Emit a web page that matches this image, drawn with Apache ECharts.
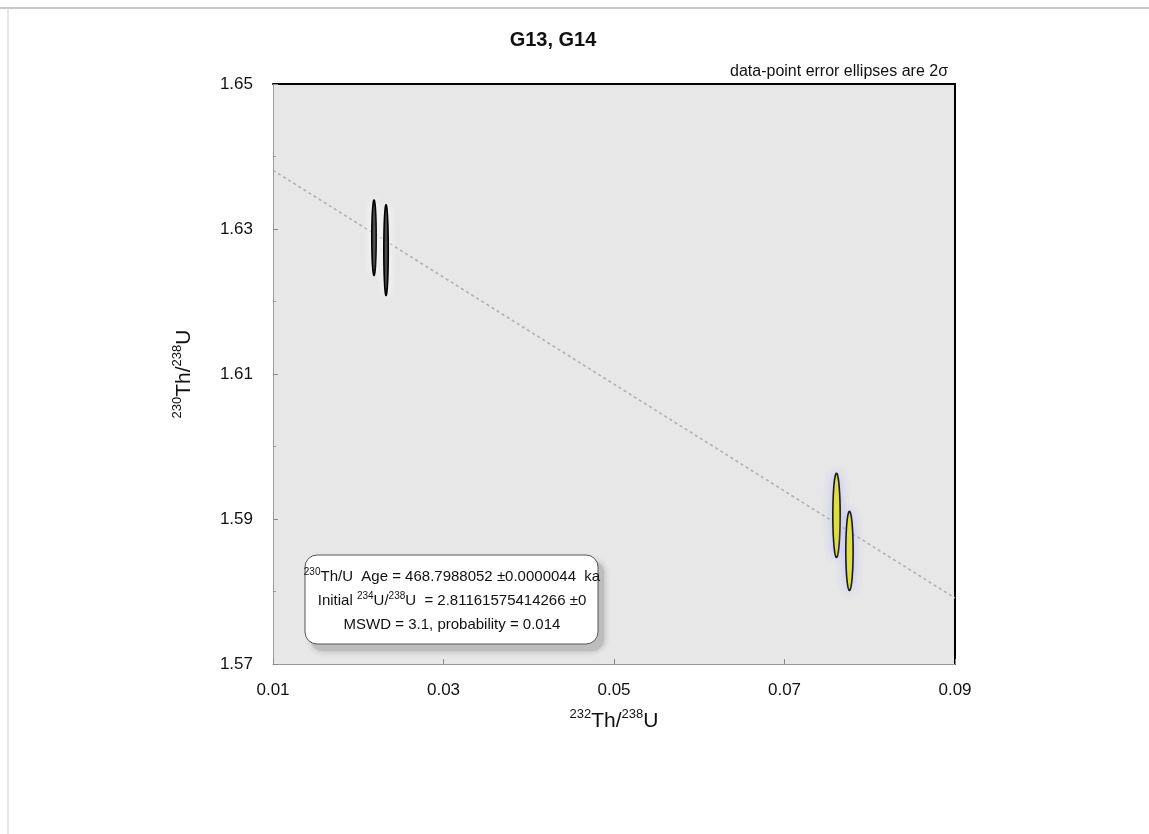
<!DOCTYPE html>
<html>
<head>
<meta charset="utf-8">
<script src="https://cdn.jsdelivr.net/npm/echarts@6/dist/echarts.min.js"></script>
<style>
html,body{margin:0;padding:0;background:#fff;}
#chart{width:1149px;height:834px;}
</style>
</head>
<body>
<div id="chart"></div>
<script>
// ---- data ----
const xTicks = [0.01, 0.03, 0.05, 0.07, 0.09];
const yTicks = [1.57, 1.59, 1.61, 1.63, 1.65];
// ellipses: [centerX, centerY, halfWidthX, halfHeightY]
const blackEllipses = [
  [0.02185, 1.6288, 0.00026, 0.00520],
  [0.02326, 1.6271, 0.00026, 0.00625]
];
const yellowEllipses = [
  [0.07610, 1.5905, 0.00043, 0.00580],
  [0.07762, 1.5856, 0.00043, 0.00545]
];
const isochronLine = [[0.01, 1.6381], [0.09, 1.5791]];
const titleText = 'G13, G14';
const noteText = 'data-point error ellipses are 2σ';
const boxLines = [
  '{s|230}{t|Th/U  Age = 468.7988052 ±0.0000044  ka}',
  '{t|Initial }{s|234}{t|U/}{s|238}{t|U  = 2.81161575414266 ±0}',
  '{t|MSWD = 3.1, probability = 0.014}'
];

const chart = echarts.init(document.getElementById('chart'));
const FONT = '"Liberation Sans", Arial, sans-serif';

function ellipseRender(fill, stroke, shadow) {
  return function (params, api) {
    const cx = api.value(0), cy = api.value(1), rx = api.value(2), ry = api.value(3);
    const pts = [];
    const n = 72;
    for (let i = 0; i < n; i++) {
      const t = i / n * Math.PI * 2;
      pts.push(api.coord([cx + rx * Math.cos(t), cy + ry * Math.sin(t)]));
    }
    return {
      type: 'polygon',
      shape: { points: pts },
      style: { fill: fill, stroke: stroke, lineWidth: 1.6, shadowBlur: 10, shadowColor: shadow }
    };
  };
}

const supStyle = { fontSize: 13, fontFamily: FONT, color: '#111', verticalAlign: 'top', lineHeight: 14 };
const axNameRich = {
  s: supStyle,
  b: { fontSize: 21, fontFamily: FONT, color: '#111', lineHeight: 26 }
};

const boxText = boxLines.map((ln, i) => ({
  type: 'text', x: 452, y: 577 + i * 24, z: 12,
  style: {
    text: ln, align: 'center', verticalAlign: 'middle',
    rich: {
      s: { fontSize: 10, fontFamily: FONT, fill: '#111', verticalAlign: 'top', lineHeight: 12, align: 'center' },
      t: { fontSize: 15, fontFamily: FONT, fill: '#111', lineHeight: 20, align: 'center' }
    }
  }
}));

const option = {
  backgroundColor: '#fff',
  animation: false,
  title: {
    text: titleText,
    left: 548, top: 25, textAlign: 'center',
    textStyle: { fontFamily: FONT, fontWeight: 'bold', fontSize: 20, color: '#111' }
  },
  grid: {
    left: 273, top: 84, width: 682, height: 580,
    show: true, backgroundColor: '#e7e7e7', borderWidth: 0
  },
  xAxis: [{
    type: 'value', min: xTicks[0], max: xTicks[xTicks.length - 1], interval: 0.02,
    position: 'bottom',
    axisLine: { show: true, lineStyle: { color: '#9a9a9a', width: 1 } },
    axisTick: { show: true, inside: true, length: 5, lineStyle: { color: '#888' } },
    splitLine: { show: false },
    axisLabel: { fontFamily: FONT, fontSize: 17, color: '#111', margin: 18,
      formatter: v => v.toFixed(2) },
    name: '{s|232}{b|Th/}{s|238}{b|U}',
    nameLocation: 'middle', nameGap: 44,
    nameTextStyle: { rich: axNameRich }
  }, {
    type: 'value', min: xTicks[0], max: xTicks[xTicks.length - 1], interval: 0.02,
    position: 'top',
    axisLine: { show: true, lineStyle: { color: '#000', width: 2 } },
    axisTick: { show: false }, axisLabel: { show: false }, splitLine: { show: false }
  }],
  yAxis: [{
    type: 'value', min: yTicks[0], max: yTicks[yTicks.length - 1], interval: 0.02,
    position: 'left',
    axisLine: { show: true, lineStyle: { color: '#9a9a9a', width: 1 } },
    axisTick: { show: true, inside: true, length: 5, lineStyle: { color: '#888' } },
    minorTick: { show: true, splitNumber: 2, length: 3, lineStyle: { color: '#999' } },
    splitLine: { show: false },
    axisLabel: { fontFamily: FONT, fontSize: 17, color: '#111', margin: 20,
      formatter: v => v.toFixed(2) },
    name: '{s|230}{b|Th/}{s|238}{b|U}',
    nameLocation: 'middle', nameGap: 76, nameRotate: 90,
    nameTextStyle: { rich: axNameRich }
  }, {
    type: 'value', min: yTicks[0], max: yTicks[yTicks.length - 1], interval: 0.02,
    position: 'right',
    axisLine: { show: true, lineStyle: { color: '#000', width: 2 } },
    axisTick: { show: false }, axisLabel: { show: false }, splitLine: { show: false }
  }],
  series: [
    {
      type: 'line', data: isochronLine, symbol: 'none', silent: true,
      lineStyle: { color: '#b0b0b0', width: 1.6, type: [3, 3] }, z: 2
    },
    {
      type: 'custom', data: blackEllipses, renderItem: ellipseRender('#111', '#000', 'rgba(255,255,255,0.95)'),
      encode: { x: 0, y: 1 }, z: 3
    },
    {
      type: 'custom', data: yellowEllipses, renderItem: ellipseRender('#e6e619', '#1a1a1a', 'rgba(190,190,255,0.9)'),
      encode: { x: 0, y: 1 }, z: 3
    }
  ],
  graphic: [
    { type: 'line', shape: { x1: 0, y1: 8, x2: 1149, y2: 8 }, style: { stroke: '#b5b5b5', lineWidth: 1.5 }, silent: true },
    { type: 'line', shape: { x1: 8, y1: 8, x2: 8, y2: 834 }, style: { stroke: '#d0d0d0', lineWidth: 1 }, silent: true },
    {
      type: 'text', x: 948, y: 72,
      style: { text: noteText, fontFamily: FONT, fontSize: 16, fill: '#111', align: 'right', verticalAlign: 'middle' }
    },
    {
      type: 'rect', x: 311, y: 561, shape: { width: 293, height: 90, r: 12 },
      style: { fill: '#bdbdbd', shadowBlur: 6, shadowColor: 'rgba(0,0,0,0.25)' }, z: 10
    },
    {
      type: 'rect', x: 305, y: 555, shape: { width: 293, height: 89, r: 12 },
      style: { fill: '#fff', stroke: '#555', lineWidth: 1 }, z: 11
    }
  ].concat(boxText)
};
chart.setOption(option);
</script>
</body>
</html>
